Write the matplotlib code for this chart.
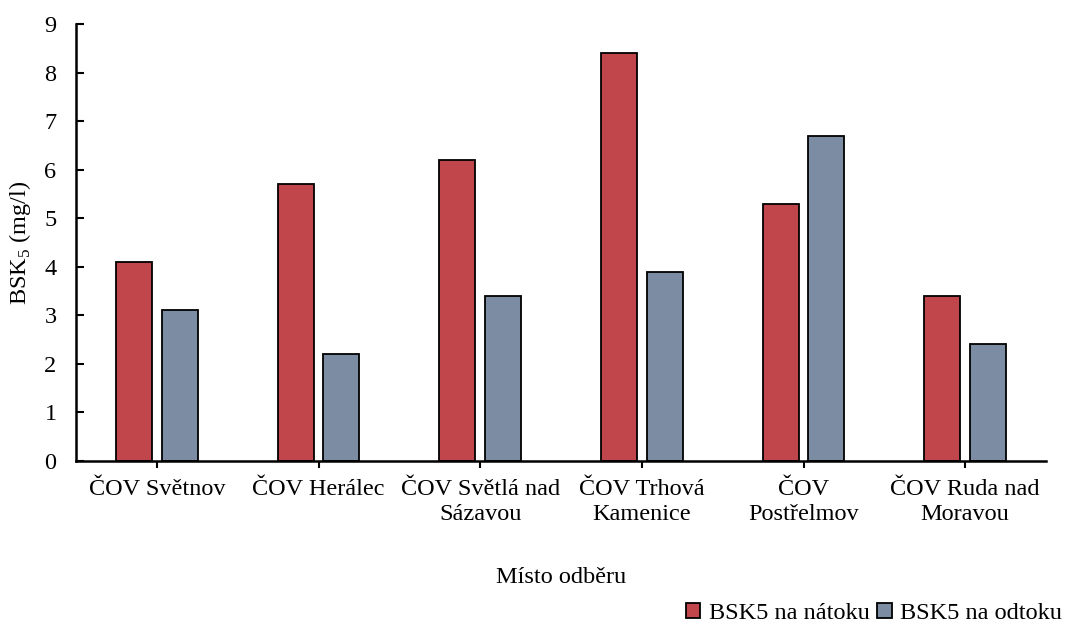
import numpy as np
import matplotlib.pyplot as plt

plt.rcParams['font.family'] = ['Liberation Serif', 'DejaVu Serif']
plt.rcParams['mathtext.fontset'] = 'custom'
plt.rcParams['mathtext.rm'] = 'Liberation Serif'

categories = ['ČOV Světnov', 'ČOV Herálec', 'ČOV Světlá nad\nSázavou',
              'ČOV Trhová\nKamenice', 'ČOV\nPostřelmov', 'ČOV Ruda nad\nMoravou']
natok = [4.1, 5.7, 6.2, 8.4, 5.3, 3.4]
odtok = [3.1, 2.2, 3.4, 3.9, 6.7, 2.4]
series_labels = ['BSK5 na nátoku', 'BSK5 na odtoku']

fs = 17.5

fig = plt.figure(figsize=(10.67, 6.3), dpi=100)
ax = fig.add_axes([76 / 1067, 1 - 461 / 630, 970 / 1067, 437 / 630])

x = np.arange(len(categories))
w = 0.223
off = 0.142
ax.bar(x - off, natok, w, color='#C0464B', edgecolor='black', linewidth=1.3,
       label=series_labels[0])
ax.bar(x + off, odtok, w, color='#7C8CA3', edgecolor='black', linewidth=1.3,
       label=series_labels[1])

ax.set_xlim(-0.5, len(categories) - 0.5)
ax.set_ylim(0, 9)
ax.set_yticks(range(10))
ax.set_xticks(x)
ax.set_xticklabels(categories, fontsize=fs, linespacing=1.25)
ax.tick_params(axis='y', direction='in', length=6, width=1.5, labelsize=fs, pad=14)
ax.tick_params(axis='x', direction='out', length=5, width=1.5, pad=8)

for s in ['top', 'right']:
    ax.spines[s].set_visible(False)
for s in ['left', 'bottom']:
    ax.spines[s].set_linewidth(1.8)

ax.set_ylabel('BSK$_{\\mathrm{5}}$ (mg/l)', fontsize=fs, labelpad=8)
ax.set_xlabel('Místo odběru', fontsize=fs, labelpad=30)

fig.legend(loc='lower right', bbox_to_anchor=(1.016, -0.025), ncol=2, frameon=False,
           fontsize=fs, handlelength=0.6, handleheight=0.6, handletextpad=0.35,
           columnspacing=0.3)

fig.savefig('out.png', dpi=100)
